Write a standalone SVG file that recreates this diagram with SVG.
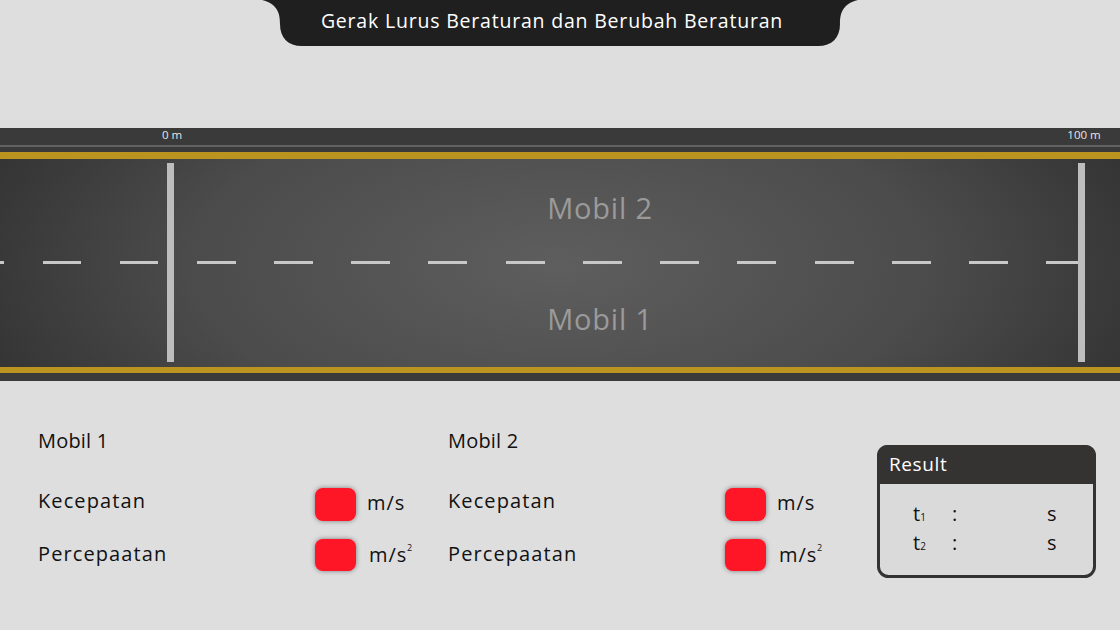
<svg xmlns="http://www.w3.org/2000/svg" width="1120" height="630" viewBox="0 0 1120 630">
<defs>
<radialGradient id="asphalt" cx="560" cy="265" r="620" gradientUnits="userSpaceOnUse" gradientTransform="translate(560 265) scale(1 0.45) translate(-560 -265)">
<stop offset="0" stop-color="#5e5e5e"/>
<stop offset="0.6" stop-color="#4b4b4b"/>
<stop offset="1" stop-color="#333333"/>
</radialGradient>
<filter id="sh" x="-40%" y="-40%" width="180%" height="180%">
<feDropShadow dx="0" dy="0" stdDeviation="2.5" flood-color="#000" flood-opacity="0.45"/>
</filter>
<style>
text{font-family:"Open Sans","Liberation Sans",sans-serif;}
.lbl{font-size:20px;fill:#111;letter-spacing:1.1px;}
.head{font-size:20px;fill:#111;letter-spacing:0.2px;}
.unit{font-size:20px;fill:#111;letter-spacing:1px;}
.dash{fill:#c8c8c8;}
.yl{fill:#bb9420;}
.post{fill:#bdbdbd;}
.inp{fill:#ff1226;filter:url(#sh);}
.road-lbl{font-size:29px;fill:#9a9a9a;text-anchor:middle;letter-spacing:0.8px;}
.ruler{font-size:11.5px;fill:#e6e6e6;text-anchor:middle;}
.res{font-size:20px;fill:#111;}
</style>
</defs>
<rect width="1120" height="630" fill="#dedede"/>

<g id="title">
<path d="M262 0 H858 C842 4 840 14 840 24 C840 38 832 46 818 46 H302 C288 46 280 38 280 24 C280 14 278 4 262 0 Z" fill="#1f1f1f"/>
<text x="552" y="28" font-size="19.5" fill="#ffffff" text-anchor="middle" letter-spacing="0.8">Gerak Lurus Beraturan dan Berubah Beraturan</text>
</g>

<g id="road">
<rect x="0" y="128" width="1120" height="253" fill="#3a3a3a"/>
<rect x="0" y="145.5" width="1120" height="1" fill="#8a8a8a"/>
<text class="ruler" x="172" y="139">0 m</text>
<text class="ruler" x="1084" y="139">100 m</text>
<rect x="0" y="158" width="1120" height="210" fill="url(#asphalt)"/>
<rect class="yl" x="0" y="152" width="1120" height="7"/>
<rect class="yl" x="0" y="367" width="1120" height="6"/>
<g id="lane-dashes">
<rect class="dash" x="0" y="261" width="4" height="3"/>
<rect class="dash" x="43" y="261" width="38" height="3"/>
<rect class="dash" x="120" y="261" width="38" height="3"/>
<rect class="dash" x="197" y="261" width="39" height="3"/>
<rect class="dash" x="274" y="261" width="39" height="3"/>
<rect class="dash" x="351" y="261" width="39" height="3"/>
<rect class="dash" x="428" y="261" width="39" height="3"/>
<rect class="dash" x="506" y="261" width="39" height="3"/>
<rect class="dash" x="583" y="261" width="39" height="3"/>
<rect class="dash" x="660" y="261" width="39" height="3"/>
<rect class="dash" x="737" y="261" width="39" height="3"/>
<rect class="dash" x="815" y="261" width="39" height="3"/>
<rect class="dash" x="892" y="261" width="39" height="3"/>
<rect class="dash" x="969" y="261" width="39" height="3"/>
<rect class="dash" x="1046" y="261" width="39" height="3"/>
</g>
<rect class="post" x="167" y="163" width="7" height="199"/>
<rect class="post" x="1078" y="163" width="7" height="199"/>
<text class="road-lbl" x="600" y="219">Mobil 2</text>
<text class="road-lbl" x="600" y="330">Mobil 1</text>
</g>

<g id="mobil1-panel">
<text class="head" x="38" y="448">Mobil 1</text>
<text class="lbl" x="38" y="508">Kecepatan</text>
<text class="lbl" x="38" y="561">Percepaatan</text>
<rect class="inp" x="315" y="488" width="41" height="33" rx="8"/>
<rect class="inp" x="315" y="539" width="41" height="32" rx="8"/>
<text class="unit" x="367" y="510">m/s</text>
<text class="unit" x="369" y="562">m/s<tspan font-size="9" dx="-0.5" dy="-11">2</tspan></text>
</g>

<g id="mobil2-panel">
<text class="head" x="448" y="448">Mobil 2</text>
<text class="lbl" x="448" y="508">Kecepatan</text>
<text class="lbl" x="448" y="561">Percepaatan</text>
<rect class="inp" x="725" y="488" width="41" height="33" rx="8"/>
<rect class="inp" x="725" y="539" width="41" height="32" rx="8"/>
<text class="unit" x="777" y="510">m/s</text>
<text class="unit" x="779" y="562">m/s<tspan font-size="9" dx="-0.5" dy="-11">2</tspan></text>
</g>

<g id="result">
<rect x="878.5" y="446.5" width="216" height="130" rx="10" fill="#dadada" stroke="#353232" stroke-width="3"/>
<path d="M877 484 V455 A10 10 0 0 1 887 445 H1086 A10 10 0 0 1 1096 455 V484 Z" fill="#353232"/>
<text x="889" y="471" font-size="19" fill="#ffffff" letter-spacing="0.6">Result</text>
<text class="res" x="913" y="521">t<tspan font-size="10">1</tspan></text>
<text class="res" x="952" y="521">:</text>
<text class="res" x="1047" y="521">s</text>
<text class="res" x="913" y="550">t<tspan font-size="10">2</tspan></text>
<text class="res" x="952" y="550">:</text>
<text class="res" x="1047" y="550">s</text>
</g>
</svg>
